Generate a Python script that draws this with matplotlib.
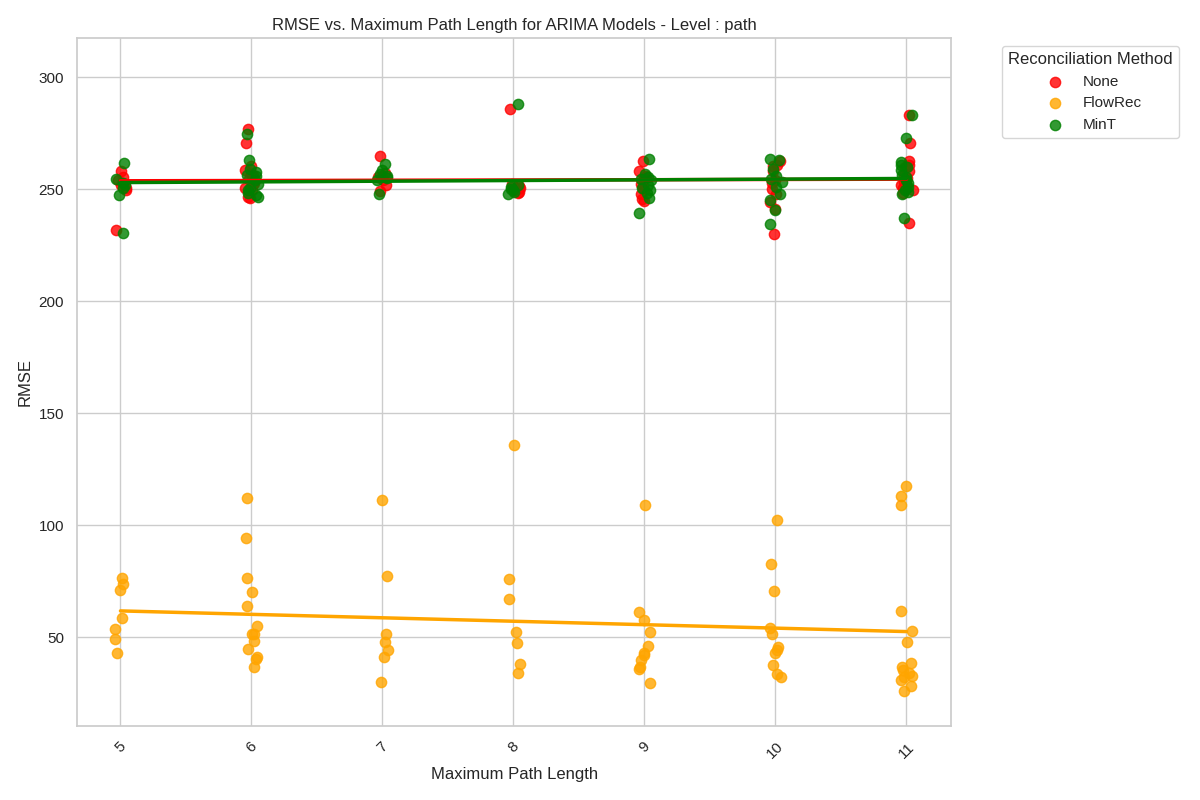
import numpy as np
import pandas as pd
import matplotlib
matplotlib.use("Agg")
import matplotlib.pyplot as plt
import seaborn as sns

# values, grouped by maximum path length
path_lengths = [5, 6, 7, 8, 9, 10, 11]

rmse_none = {
    5: [258.0, 255.5, 254.0, 251.8, 250.5, 249.5, 232.0],
    6: [276.8, 270.8, 260.3, 258.5, 257.0, 256.3, 254.8, 253.0, 252.5, 250.5, 249.6, 246.6, 246.3],
    7: [264.9, 257.5, 256.0, 255.5, 254.0, 252.0, 249.3],
    8: [286.0, 252.5, 251.5, 250.5, 249.6, 249.0, 248.5],
    9: [262.5, 258.2, 256.0, 255.0, 254.0, 252.5, 251.0, 249.6, 248.0, 245.8, 244.6],
    10: [262.5, 260.7, 260.3, 258.0, 254.0, 253.0, 250.0, 248.1, 244.4, 241.4, 230.2],
    11: [283.0, 270.8, 262.6, 261.0, 260.0, 258.0, 256.5, 255.0, 253.3, 252.5, 251.8, 250.5, 249.6, 248.5, 235.0],
}

rmse_flowrec = {
    5: [76.7, 73.7, 71.3, 58.8, 53.9, 49.4, 43.2],
    6: [112.4, 94.5, 76.7, 70.4, 63.8, 54.9, 51.5, 51.5, 48.5, 45.0, 41.4, 40.2, 36.9],
    7: [111.2, 77.2, 51.3, 48.1, 44.2, 41.4, 30.2],
    8: [136.0, 76.2, 67.3, 52.5, 47.6, 38.3, 34.3],
    9: [109.2, 61.5, 57.9, 52.5, 46.3, 42.9, 42.3, 40.0, 36.9, 36.0, 29.8],
    10: [102.5, 82.9, 70.8, 54.3, 51.6, 45.8, 44.5, 43.2, 37.8, 33.8, 32.5],
    11: [117.7, 113.3, 109.2, 61.9, 53.0, 48.1, 38.7, 36.9, 35.6, 34.3, 32.9, 32.1, 31.2, 28.4, 26.2],
}

rmse_mint = {
    5: [261.7, 254.8, 253.0, 252.0, 250.6, 247.3, 230.7],
    6: [274.9, 263.3, 259.2, 257.7, 256.5, 255.8, 254.0, 252.5, 250.5, 249.6, 248.5, 247.5, 246.6],
    7: [261.5, 258.5, 257.0, 256.0, 255.0, 254.0, 248.1],
    8: [288.3, 252.0, 251.0, 250.3, 249.6, 249.0, 248.1],
    9: [263.4, 257.0, 255.5, 254.5, 254.0, 252.0, 250.5, 249.6, 248.5, 246.3, 239.6],
    10: [263.7, 263.0, 259.2, 256.0, 254.8, 253.3, 251.0, 248.1, 245.1, 240.6, 234.4],
    11: [283.0, 272.9, 262.2, 261.0, 260.0, 258.5, 256.3, 255.5, 254.0, 253.0, 251.0, 249.6, 249.0, 248.1, 237.2],
}

methods = ["None", "FlowRec", "MinT"]
colors = ["red", "orange", "green"]
level = "path"


def to_frame(values):
    rows = []
    for k in path_lengths:
        for v in values[k]:
            rows.append((k, v))
    return pd.DataFrame(rows, columns=["max_path_length", "rmse"])


sns.set_theme(style="whitegrid")
plt.rcParams["font.family"] = ["Liberation Sans", "DejaVu Sans"]
np.random.seed(3)

fig, ax = plt.subplots(figsize=(12, 8), dpi=100)
for method, values, color in zip(methods, [rmse_none, rmse_flowrec, rmse_mint], colors):
    df = to_frame(values)
    sns.regplot(data=df, x="max_path_length", y="rmse", ax=ax, x_jitter=0.05,
                ci=None, color=color, label=method,
                scatter_kws={"s": 55},
                line_kws={"linewidth": 2.5})

ax.set_title(f"RMSE vs. Maximum Path Length for ARIMA Models - Level : {level}")
ax.set_xlabel("Maximum Path Length")
ax.set_ylabel("RMSE")
ax.set_xticks(path_lengths)
ax.set_xlim(4.67, 11.34)
ax.set_ylim(10.3, 317.4)
plt.setp(ax.get_xticklabels(), rotation=45)
ax.legend(title="Reconciliation Method", bbox_to_anchor=(1.05, 1), loc="upper left")
plt.tight_layout()
plt.savefig("out.png")
